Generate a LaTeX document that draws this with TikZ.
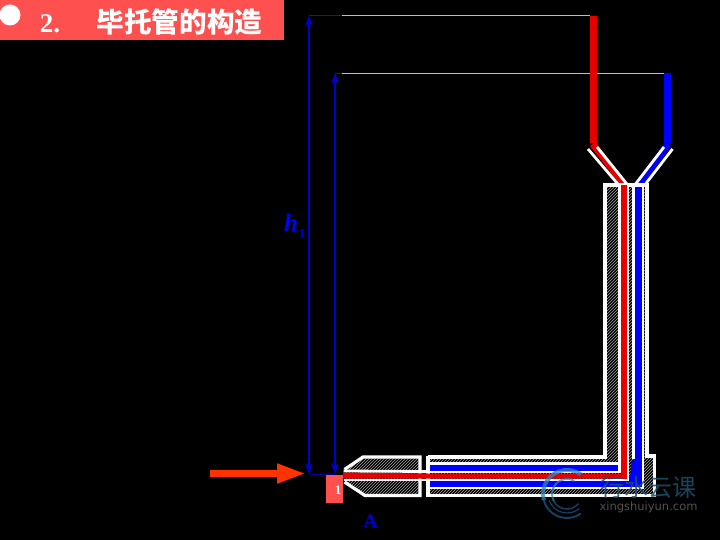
\documentclass[tikz,border=0pt]{standalone}
\usepackage{fontspec}
\setmainfont{Liberation Serif}
\newfontfamily\cjk{Noto Sans CJK SC}
\newfontfamily\wmfont{DejaVu Sans}
\usetikzlibrary{patterns,arrows.meta}
\definecolor{barred}{HTML}{FF5050}
\definecolor{flowred}{HTML}{E60000}
\definecolor{flowblue}{HTML}{0000FF}
\definecolor{dimblue}{HTML}{0000D0}
\definecolor{arrowred}{HTML}{FF3300}
\definecolor{wmblue}{HTML}{2F86B8}
\definecolor{wmdark}{HTML}{1B4A78}
\tikzset{
  wline/.style={draw=white,line width=3.2pt,line join=miter},
  thinwhite/.style={draw=white,line width=2.8pt,line join=miter},
  hatchfill/.style={pattern=north east lines,pattern color=gray!70},
  dimline/.style={draw=dimblue,line width=1.8pt,{Stealth[length=11pt,width=8pt]}-{Stealth[length=11pt,width=8pt]}},
  leader/.style={draw=gray!50,line width=0.8pt},
  leaderdark/.style={draw=gray!30!black,line width=0.8pt},
  wm/.style={inner sep=0pt}
}
\begin{document}
\begin{tikzpicture}[x=1pt,y=-1pt]
\useasboundingbox (0,0) rectangle (720,540);
\fill[black] (0,0) rectangle (720,540);
% title bar
\fill[barred] (0,0) rectangle (284,40.5);
\fill[white] (10,15) circle (10.5);
\node[text=white,font=\fontsize{27}{30}\selectfont\bfseries,inner sep=0pt] (num) at (50,23.5) {2.};
\node[text=white,font=\fontsize{27.6}{30}\selectfont\cjk\bfseries,inner sep=0pt] (title) at (179.5,22) {毕托管的构造};
% dimensions
\coordinate (hTop) at (309,15.5);
\coordinate (hBot) at (309,474);
\coordinate (rTop) at (335,73);
\coordinate (rBot) at (335,474);
\coordinate (redEnd) at (590,15.5);
\coordinate (blueEnd) at (664,73);
\coordinate (hMid) at (342,15.5);
\coordinate (rMid) at (342,73);
\draw[leaderdark] (hTop) -- (hMid);
\draw[leader] (hMid) -- (redEnd);
\draw[leaderdark] (rTop) -- (rMid);
\draw[leader] (rMid) -- (blueEnd);
\draw[draw=dimblue!70!black,line width=0.8pt] (hBot) -- (rBot);
\draw[dimline] (hTop) -- (hBot);
\draw[dimline] (rTop) -- (rBot);
% body hatch
\fill[hatchfill] (428,457) -- (605,457) -- (605,185) -- (647,185) -- (647,456) -- (654,456) -- (654,495.5) -- (428,495.5) -- cycle;
% nose hatch
\fill[hatchfill] (345,469) -- (363,457) -- (420,457) -- (420,495.5) -- (365,495.5) -- (345,482) -- cycle;
% flow fills
\fill[flowblue] (428,464) -- (619,464) -- (619,472) -- (428,472) -- cycle;
\fill[flowblue] (428,480) -- (628,480) -- (631,472) -- (631,464) -- (634,458) -- (634,185) -- (643,185) -- (643,488) -- (428,488) -- cycle;
% Y branches
\fill[flowred] (590,16) -- (597,16) -- (597,143) -- (590,143) -- cycle;
\fill[flowblue] (664,73) -- (671,73) -- (671,143) -- (664,143) -- cycle;
\fill[flowred] (590,146) -- (595.5,142) -- (628,185) -- (620,185) -- cycle;
\fill[flowblue] (665.5,142) -- (671,146) -- (643,185) -- (634,185) -- cycle;
% white outlines: Y
\draw[thinwhite] (588,149) -- (619.5,186);
\draw[thinwhite] (597,147) -- (628.5,186);
\draw[thinwhite] (664,147) -- (634,186);
\draw[thinwhite] (672.5,149) -- (644,186);
% white outlines: vertical tube and body
\draw[wline] (428,457) -- (605,457) -- (605,185) -- (647,185) -- (647,456) -- (654.5,456) -- (654.5,495.5) -- (428,495.5);
\draw[thinwhite] (428,463.5) -- (619.5,463.5) -- (619.5,185);
\draw[thinwhite] (428,472) -- (619.5,472) -- (619.5,463.5);
\draw[thinwhite] (428,480) -- (628,480) -- (628,185);
\draw[thinwhite] (343.5,471) -- (428,471.5);
\draw[thinwhite] (343.5,480) -- (428,480);
\draw[thinwhite] (633.5,185) -- (633.5,459);
\draw[thinwhite] (643,185) -- (643,488) -- (428,488);
% nose outline
\draw[wline] (344.5,469.5) -- (363,457) -- (420,457) -- (420,495.5) -- (365,495.5) -- (344.5,482);
% body closing line
\draw[wline] (428,455.5) -- (428,497);
% red core
\fill[flowred] (343,472.6) -- (428,473.5) -- (626.5,473.5) -- (626.5,478.5) -- (343,478.5) -- cycle;
\fill[flowred] (621.2,185) rectangle (626.5,478.5);
% incoming arrow
\coordinate (inStart) at (210,473.5);
\coordinate (inEnd) at (306,473.5);
\draw[draw=arrowred,line width=7pt,-{Triangle[length=29pt,width=18pt]}] (inStart) -- (inEnd);
% point 1
\node[fill=barred,minimum width=17.5pt,minimum height=28pt,inner sep=0pt] (pt) at (334.5,489) {};
\node[text=white,font=\fontsize{13}{15}\selectfont\bfseries,inner sep=0pt] (ptlabel) at (338,490.5) {1};
\node[text=flowblue!85!black,font=\fontsize{19}{21}\selectfont\bfseries,inner sep=0pt] (Alabel) at (370.5,521) {A};
\node[text=flowblue,font=\fontsize{25}{26}\selectfont\bfseries\itshape,inner sep=0pt] (hlabel) at (291,223) {h};
\node[text=dimblue,font=\fontsize{12}{14}\selectfont\bfseries,inner sep=0pt] (hsub) at (302,233.5) {1};
% watermark
\coordinate (wmc) at (567,494);
\draw[draw=wmblue,line width=4pt,opacity=.75] (wmc) ++(-55:24) arc[start angle=-55,end angle=-195,radius=24];
\draw[draw=wmdark,line width=2pt,opacity=.85] (wmc) ++(-195:24) arc[start angle=-195,end angle=-305,radius=24];
\draw[draw=wmblue,line width=2pt,opacity=.7] (wmc) ++(-60:15) arc[start angle=-60,end angle=-210,radius=15];
\draw[draw=wmdark,line width=1.5pt,opacity=.85] (wmc) ++(-210:15) arc[start angle=-210,end angle=-320,radius=15];
\draw[draw=wmdark,line width=1.2pt,opacity=.85] (wmc) ++(-200:19) arc[start angle=-200,end angle=-310,radius=19];
\node[wm,text=wmblue!60!black,opacity=.85,font=\fontsize{24}{26}\selectfont\cjk] (wmcn) at (648.5,487) {行水云课};
\node[wm,text=white!32!black,font=\fontsize{11.5}{13}\selectfont\wmfont] (wmen) at (648.5,507) {xingshuiyun.com};
\end{tikzpicture}
\end{document}
